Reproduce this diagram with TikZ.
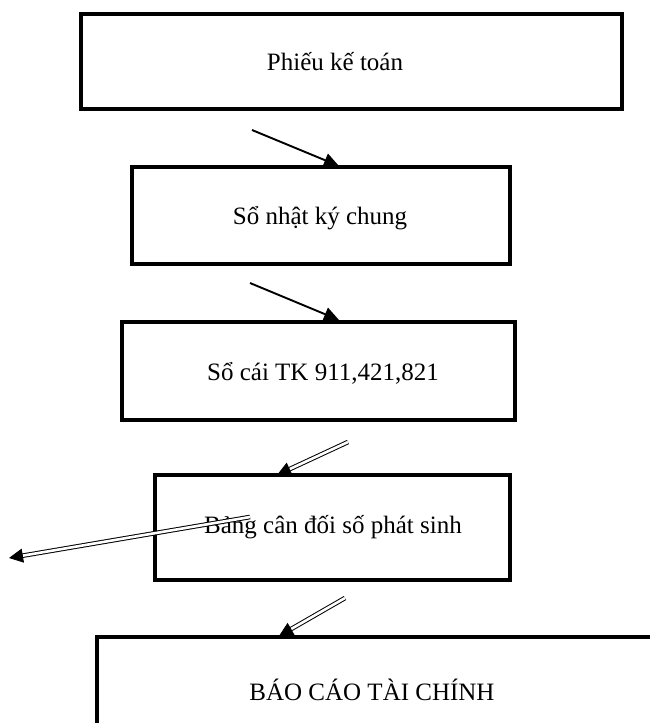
\documentclass[tikz,border=0pt]{standalone}
\usepackage{fontspec}
\setmainfont{Liberation Serif}
\usetikzlibrary{arrows.meta}
\begin{document}
\begin{tikzpicture}[x=1pt,y=-1pt,
  box/.style={draw,line width=4pt,rectangle,anchor=north west,inner sep=0pt},
  txt/.style={inner sep=0pt,font=\fontsize{25}{30}\selectfont},
  single/.style={line width=1.9pt,-{Triangle[length=15pt,width=14pt]}},
  twin/.style={double,line width=1pt,double distance=2.6pt,-{Triangle[length=14pt,width=14pt]}}]
\useasboundingbox (0,0) rectangle (649,723);
% boxes
\node[box,minimum width=541pt,minimum height=95pt] (b1) at (79,12) {};
\node[box,minimum width=378pt,minimum height=97pt] (b2) at (130,165) {};
\node[box,minimum width=393pt,minimum height=98pt] (b3) at (120,320) {};
\node[box,minimum width=355pt,minimum height=105pt] (b4) at (153,473) {};
\node[box,minimum width=600pt,minimum height=150pt] (b5) at (95,635) {};
% box texts
\node[txt] (t1) at (335,62) {Phiếu kế toán};
\node[txt] (t2) at (320,218) {Sổ nhật ký chung};
\node[txt] (t3) at (323,373) {Sổ cái TK 911,421,821};
\node[txt] (t4) at (333,527) {Bảng cân đối số phát sinh};
\node[txt] (t5) at (372,690) {BÁO CÁO TÀI CHÍNH};
% arrow ends
\coordinate (a1s) at (252,130);
\coordinate (a1e) at (339,166);
\coordinate (a2s) at (250,283);
\coordinate (a2e) at (339,320);
\coordinate (a3s) at (348,442);
\coordinate (a3e) at (277,475);
\coordinate (a4s) at (250,517);
\coordinate (a4e) at (9,558);
\coordinate (a5s) at (345,598);
\coordinate (a5e) at (279,636);
% connectors
\draw[single] (a1s) -- (a1e);
\draw[single] (a2s) -- (a2e);
\draw[twin] (a3s) -- (a3e);
\draw[twin] (a4s) -- (a4e);
\draw[twin] (a5s) -- (a5e);
\end{tikzpicture}
\end{document}
